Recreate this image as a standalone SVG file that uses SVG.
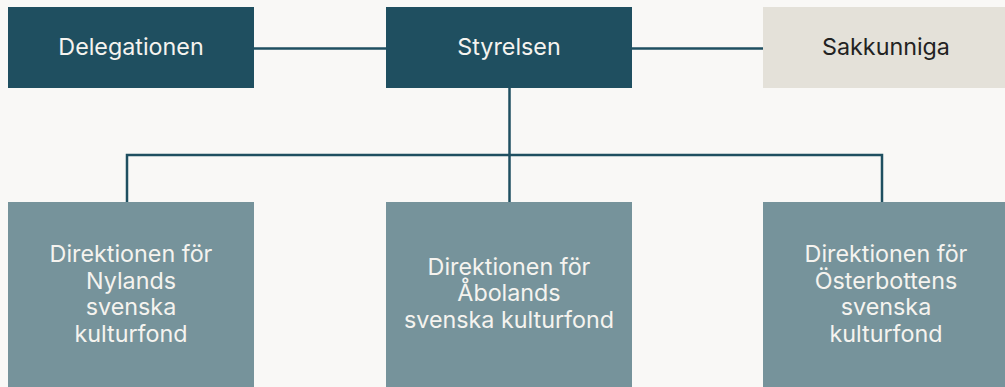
<svg xmlns="http://www.w3.org/2000/svg" width="1005" height="387" viewBox="0 0 1005 387">
<style>
.bg{fill:#f9f8f6}
.dark{fill:#1f4f60}
.light{fill:#e4e1d9}
.mid{fill:#76939b}
.t{font-family:Inter,"Liberation Sans",sans-serif;font-size:23.3px;text-anchor:middle}
.tw{fill:#f5f3ef}
.tk{fill:#222222}
.c{stroke:#1f4f60;stroke-width:2.5;fill:none}
</style>
<rect class="bg" x="0" y="0" width="1005" height="387"/>
<g id="connectors">
<line class="c" x1="254" y1="48.5" x2="386" y2="48.5"/>
<line class="c" x1="632" y1="48.5" x2="763" y2="48.5"/>
<line class="c" x1="509.5" y1="88" x2="509.5" y2="202"/>
<polyline class="c" points="127,202 127,155 882,155 882,202"/>
</g>
<g id="delegationen">
<rect class="dark" x="8" y="7" width="246" height="81"/>
<text class="t tw" x="131" y="55">Delegationen</text>
</g>
<g id="styrelsen">
<rect class="dark" x="386" y="7" width="246" height="81"/>
<text class="t tw" x="509" y="55">Styrelsen</text>
</g>
<g id="sakkunniga">
<rect class="light" x="763" y="7" width="246" height="81"/>
<text class="t tk" x="886" y="55">Sakkunniga</text>
</g>
<g id="nyland">
<rect class="mid" x="8" y="202" width="246" height="186"/>
<text class="t tw" x="131"><tspan x="131" y="262">Direktionen för</tspan><tspan x="131" y="288.5">Nylands</tspan><tspan x="131" y="315">svenska</tspan><tspan x="131" y="341.5">kulturfond</tspan></text>
</g>
<g id="aboland">
<rect class="mid" x="386" y="202" width="246" height="186"/>
<text class="t tw" x="509"><tspan x="509" y="274.5">Direktionen för</tspan><tspan x="509" y="301">Åbolands</tspan><tspan x="509" y="327.5">svenska kulturfond</tspan></text>
</g>
<g id="osterbotten">
<rect class="mid" x="763" y="202" width="246" height="186"/>
<text class="t tw" x="886"><tspan x="886" y="262">Direktionen för</tspan><tspan x="886" y="288.5">Österbottens</tspan><tspan x="886" y="315">svenska</tspan><tspan x="886" y="341.5">kulturfond</tspan></text>
</g>
</svg>
